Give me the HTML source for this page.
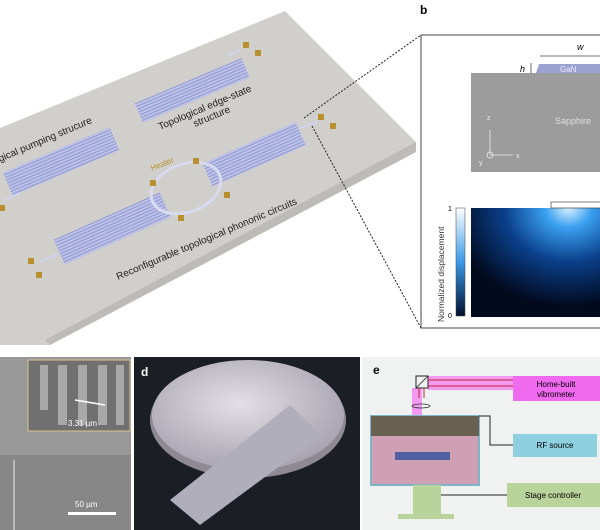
<!DOCTYPE html>
<html><head><meta charset="utf-8"><style>
html,body{margin:0;padding:0;background:#fff;}
svg{display:block;font-family:"Liberation Sans",sans-serif;}
</style></head><body>
<svg width="600" height="530" viewBox="0 0 600 530" xmlns="http://www.w3.org/2000/svg">
<defs>
<pattern id="wg" width="4" height="3" patternUnits="userSpaceOnUse">
<rect width="4" height="3" fill="#bcc2ea"/><rect y="2" width="4" height="1" fill="#9098cc"/>
</pattern>
<radialGradient id="hm" cx="0.75" cy="0" r="0.9">
<stop offset="0" stop-color="#d8f0ff"/><stop offset="0.2" stop-color="#3aa0f0"/><stop offset="0.55" stop-color="#0a3f8a"/><stop offset="1" stop-color="#020a1e"/>
</radialGradient>
<linearGradient id="cb" x1="0" y1="0" x2="0" y2="1"><stop offset="0" stop-color="#fff"/><stop offset="0.5" stop-color="#3a9ae8"/><stop offset="1" stop-color="#021030"/></linearGradient>
<radialGradient id="coin" cx="0.45" cy="0.4" r="0.6"><stop offset="0" stop-color="#e2e0e6"/><stop offset="1" stop-color="#a8a4b0"/></radialGradient>
</defs>
<!-- plate -->
<polygon points="0,128 285,11 416,142 416,152 50,345 0,345" fill="#d0cfcb"/>
<polygon points="416,142 416,152 50,345 45,340" fill="#bcbbb7"/>
<!-- arrays -->
<g transform="translate(61,161) rotate(-23)"><rect x="-58" y="-12" width="116" height="25" fill="url(#wg)"/></g>
<g transform="translate(192,90) rotate(-23)"><rect x="-58" y="-10" width="116" height="21" fill="url(#wg)"/></g>
<g transform="translate(112,228) rotate(-24)"><rect x="-58" y="-13" width="116" height="27" fill="url(#wg)"/></g>
<g transform="translate(254,154) rotate(-24)"><rect x="-51" y="-12" width="102" height="25" fill="url(#wg)"/></g>
<ellipse cx="186" cy="188" rx="36" ry="24" fill="none" stroke="#d8daf0" stroke-width="3" transform="rotate(-20 186 188)"/>
<!-- feed lines & pads -->
<g stroke="#d0d3ee" stroke-width="2"><line x1="5" y1="200" x2="20" y2="193"/><line x1="40" y1="262" x2="58" y2="254"/><line x1="300" y1="128" x2="318" y2="122"/><line x1="240" y1="50" x2="228" y2="55"/></g>
<g fill="#b8902e"><rect x="0" y="205" width="5" height="6"/><rect x="28" y="258" width="6" height="6"/><rect x="36" y="272" width="6" height="6"/><rect x="243" y="42" width="6" height="6"/><rect x="255" y="50" width="6" height="6"/><rect x="318" y="114" width="6" height="6"/><rect x="330" y="123" width="6" height="6"/><rect x="150" y="180" width="6" height="6"/><rect x="193" y="158" width="6" height="6"/><rect x="224" y="192" width="6" height="6"/><rect x="178" y="215" width="6" height="6"/></g>
<!-- labels -->
<g font-size="10" fill="#222">
<text transform="translate(0,162) rotate(-23)">gical pumping strucure</text>
<text transform="translate(160,130) rotate(-23)">Topological edge-state</text>
<text transform="translate(195,127) rotate(-23)">structure</text>
<text transform="translate(118,280) rotate(-23)">Reconfigurable topological phononic circuits</text>
</g>
<text transform="translate(152,171) rotate(-22)" font-size="8" fill="#b8902e">Heater</text>
<!-- dotted connectors -->
<g stroke="#222" stroke-width="1" stroke-dasharray="2,1.5" fill="none"><line x1="304" y1="118" x2="421" y2="35"/><line x1="312" y1="126" x2="421" y2="328"/></g>
<!-- panel b -->
<text x="420" y="14" font-size="12" font-weight="bold">b</text>
<rect x="421" y="35" width="182" height="293" fill="#fff" stroke="#444" stroke-width="1"/>
<rect x="471" y="73" width="130" height="99" fill="#9c9c9c"/>
<polygon points="539,64 600,64 600,73 536,73" fill="#9aa2d2"/>
<text x="560" y="72" font-size="8" fill="#e8eaf6">GaN</text>
<text x="577" y="50" font-size="9" font-style="italic">w</text>
<line x1="540" y1="56" x2="600" y2="56" stroke="#444" stroke-width="0.8"/>
<text x="520" y="72" font-size="9" font-style="italic">h</text>
<line x1="531" y1="63" x2="531" y2="73" stroke="#444" stroke-width="0.8"/>
<text x="555" y="124" font-size="9" fill="#e0e0e0">Sapphire</text>
<g stroke="#eee" stroke-width="0.8" fill="none"><line x1="490" y1="155" x2="490" y2="130"/><line x1="490" y1="155" x2="513" y2="155"/><circle cx="490" cy="155" r="3"/></g>
<text x="487" y="120" font-size="7" fill="#eee">z</text><text x="516" y="158" font-size="7" fill="#eee">x</text><text x="479" y="165" font-size="7" fill="#eee">y</text>
<rect x="471" y="208" width="130" height="109" fill="url(#hm)"/>
<rect x="551" y="202" width="50" height="6" fill="none" stroke="#444" stroke-width="0.7"/>
<rect x="456" y="208" width="9" height="108" fill="url(#cb)" stroke="#444" stroke-width="0.5"/>
<text x="448" y="211" font-size="7">1</text><text x="448" y="318" font-size="7">0</text>
<text transform="translate(444,322) rotate(-90)" font-size="8.5" fill="#333">Normalized displacement</text>
<!-- panel c -->
<rect x="0" y="357" width="131" height="173" fill="#989898"/>
<rect x="0" y="455" width="131" height="75" fill="#878787"/>
<line x1="14" y1="460" x2="14" y2="530" stroke="#bbb" stroke-width="2"/>
<rect x="28" y="360" width="102" height="71" fill="#707070" stroke="#d8c48e" stroke-width="1"/>
<g fill="#a8a8a8"><rect x="40" y="365" width="8" height="45"/><rect x="58" y="365" width="9" height="60"/><rect x="78" y="365" width="9" height="60"/><rect x="98" y="365" width="9" height="60"/><rect x="116" y="365" width="8" height="60"/></g>
<line x1="75" y1="400" x2="105" y2="405" stroke="#fff" stroke-width="1.5"/>
<text x="68" y="426" font-size="8" fill="#fff">3.31 µm</text>
<text x="75" y="507" font-size="8" fill="#fff">50 µm</text>
<rect x="68" y="512" width="48" height="3" fill="#fff"/>
<!-- panel d -->
<rect x="134" y="357" width="226" height="173" fill="#1c1e26"/>
<ellipse cx="248" cy="420" rx="98" ry="58" fill="#8e8a94"/>
<ellipse cx="248" cy="415" rx="96" ry="55" fill="url(#coin)"/>
<polygon points="170,500 290,405 322,435 200,525" fill="#b0aebb"/>
<text x="141" y="376" font-size="12" font-weight="bold" fill="#fff">d</text>
<!-- panel e -->
<rect x="362" y="357" width="238" height="173" fill="#f0f1f1"/>
<text x="373" y="374" font-size="12" font-weight="bold">e</text>
<rect x="428" y="376" width="85" height="14" fill="#f29af0"/>
<rect x="412" y="388" width="10" height="30" fill="#f29af0"/>
<polygon points="411,418 424,418 436,470 400,470" fill="#d860d8" opacity="0.8"/>
<rect x="416" y="376" width="12" height="12" fill="none" stroke="#222" stroke-width="1"/>
<line x1="416" y1="388" x2="428" y2="376" stroke="#222" stroke-width="0.8"/>
<g stroke="#c4203c" stroke-width="1"><line x1="428" y1="380" x2="513" y2="380"/><line x1="428" y1="386" x2="513" y2="386"/><line x1="419" y1="388" x2="419" y2="398"/><line x1="424" y1="388" x2="424" y2="398"/></g>
<ellipse cx="421" cy="406" rx="9" ry="2" fill="none" stroke="#333" stroke-width="0.8"/>
<rect x="513" y="376" width="87" height="25" fill="#f06af0"/>
<text x="556" y="387" font-size="8" text-anchor="middle">Home-built</text>
<text x="556" y="397" font-size="8" text-anchor="middle">vibrometer</text>
<rect x="371" y="416" width="108" height="69" fill="#cfa0b4" stroke="#7fb5c8" stroke-width="2"/>
<rect x="371" y="416" width="108" height="20" fill="#6a6050"/>
<rect x="395" y="452" width="55" height="8" fill="#5060a0"/>
<polyline points="479,416 490,416 490,445 513,445" fill="none" stroke="#222" stroke-width="1"/>
<rect x="513" y="434" width="84" height="23" fill="#8ecfe0"/>
<text x="555" y="448" font-size="8" text-anchor="middle">RF source</text>
<rect x="413" y="485" width="28" height="30" fill="#b8d49a"/>
<rect x="398" y="514" width="56" height="5" fill="#b8d49a"/>
<line x1="441" y1="495" x2="507" y2="495" stroke="#222" stroke-width="1"/>
<rect x="507" y="483" width="93" height="24" fill="#b8d49a"/>
<text x="553" y="498" font-size="8" text-anchor="middle">Stage controller</text>
</svg>
</body></html>
